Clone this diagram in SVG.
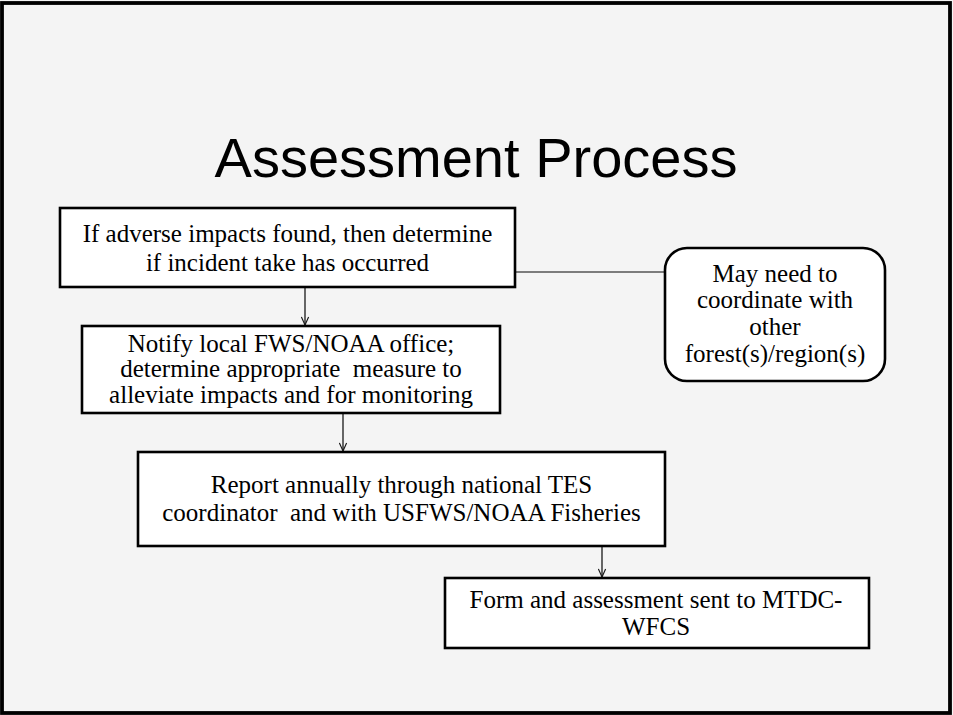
<svg xmlns="http://www.w3.org/2000/svg" width="953" height="715" viewBox="0 0 953 715">
  <defs>
    <style>
      .box { fill: #ffffff; stroke: #000000; stroke-width: 2.6; }
      .txt { font-family: "Liberation Serif", "DejaVu Serif", serif; font-size: 25px; fill: #000000; text-anchor: middle; }
      .title { font-family: "Liberation Sans", Arial, sans-serif; font-size: 56px; fill: #000000; text-anchor: middle; }
      .conn { stroke: #1a1a1a; stroke-width: 1.3; fill: none; }
      .plain { stroke: #555555; stroke-width: 1.4; fill: none; }
    </style>
    <marker id="arrow" viewBox="0 0 10 10" refX="10" refY="5" markerWidth="9" markerHeight="9" markerUnits="userSpaceOnUse" orient="auto">
      <path d="M1,1 L10,5 L1,9" fill="none" stroke="#1a1a1a" stroke-width="1.3"/>
    </marker>
  </defs>

  <rect x="0" y="0" width="953" height="715" fill="#f4f4f4"/>
  <rect x="2" y="3" width="948" height="710" fill="none" stroke="#000000" stroke-width="3.8"/>

  <text class="title" x="476" y="177">Assessment Process</text>

  <g id="connectors">
    <line class="plain" x1="515" y1="272" x2="665" y2="272"/>
    <line class="conn" x1="305" y1="287" x2="305" y2="325" marker-end="url(#arrow)"/>
    <line class="conn" x1="343" y1="413" x2="343" y2="451" marker-end="url(#arrow)"/>
    <line class="conn" x1="602" y1="546" x2="602" y2="577" marker-end="url(#arrow)"/>
  </g>

  <g id="node-adverse">
    <rect class="box" x="60" y="208" width="455" height="79"/>
    <text class="txt" x="287.5" y="241.5">If adverse impacts found, then determine</text>
    <text class="txt" x="287.5" y="270.5">if incident take has occurred</text>
  </g>

  <g id="node-notify">
    <rect class="box" x="82" y="326" width="418" height="87"/>
    <text class="txt" x="291" y="351.7">Notify local FWS/NOAA office;</text>
    <text class="txt" x="291" y="377" xml:space="preserve">determine appropriate  measure to</text>
    <text class="txt" x="291" y="403">alleviate impacts and for monitoring</text>
  </g>

  <g id="node-coordinate">
    <rect class="box" x="665" y="248" width="220" height="133" rx="22" ry="22"/>
    <text class="txt" x="775" y="281.7">May need to</text>
    <text class="txt" x="775" y="308.3">coordinate with</text>
    <text class="txt" x="775" y="335">other</text>
    <text class="txt" x="775" y="361.7">forest(s)/region(s)</text>
  </g>

  <g id="node-report">
    <rect class="box" x="138" y="452" width="527" height="94"/>
    <text class="txt" x="401.5" y="493">Report annually through national TES</text>
    <text class="txt" x="401.5" y="520.7" xml:space="preserve">coordinator  and with USFWS/NOAA Fisheries</text>
  </g>

  <g id="node-form">
    <rect class="box" x="445" y="578" width="424" height="70"/>
    <text class="txt" x="656" y="608">Form and assessment sent to MTDC-</text>
    <text class="txt" x="656" y="635">WFCS</text>
  </g>
</svg>
